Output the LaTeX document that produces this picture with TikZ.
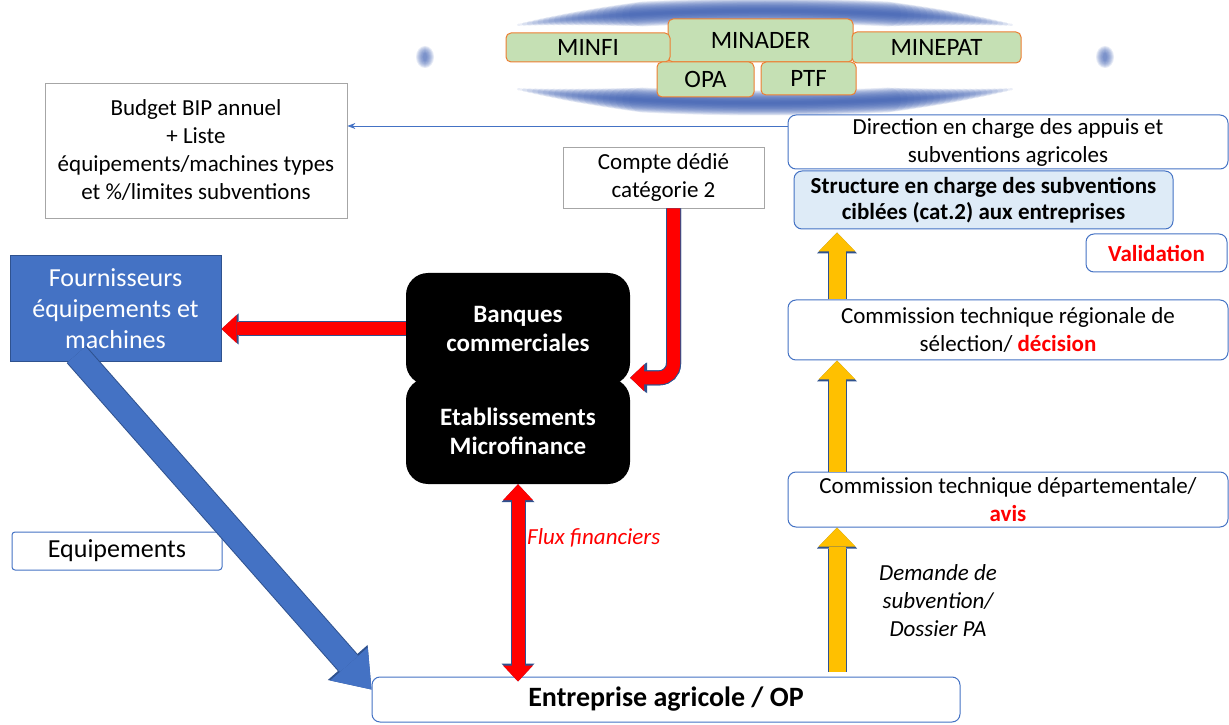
\documentclass[tikz,border=0pt]{standalone}
\usepackage{fontspec}
\setmainfont{Carlito}
\usetikzlibrary{arrows.meta}

\definecolor{accblue}{RGB}{68,114,196}
\definecolor{edgeblue}{RGB}{47,82,143}
\definecolor{paleblue}{RGB}{222,235,247}
\definecolor{orggreen}{RGB}{197,224,180}
\definecolor{orgorange}{RGB}{237,125,49}
\definecolor{flowyellow}{RGB}{255,192,0}
\definecolor{framegray}{RGB}{166,166,166}
\definecolor{glowblue}{RGB}{58,92,176}

\newcommand{\fs}[2]{\fontsize{#1}{#2}\selectfont}

\tikzset{
  every node/.style={align=center, inner sep=0pt},
  txt/.style={font=\fs{23}{28}},
  frame/.style={draw=framegray, fill=white, line width=0.8pt, txt},
  level/.style={draw=accblue, fill=white, rounded corners=8pt, line width=1pt, txt},
  org/.style={draw=orgorange, fill=orggreen, rounded corners=5pt, line width=1pt, font=\fs{25}{30}},
  bank/.style={fill=black, text=white, rounded corners=22pt, minimum width=224pt, font=\bfseries\fs{25}{29}},
  redflow/.style={draw=red, line width=13pt,
    -{Triangle[width=28pt,length=15pt,line width=0pt]},
    preaction={draw=edgeblue, line width=15pt, -{Triangle[width=31pt,length=17pt,line width=0pt]}}},
  redboth/.style={draw=red, line width=13pt,
    {Triangle[width=30pt,length=16pt,line width=0pt]}-{Triangle[width=30pt,length=16pt,line width=0pt]},
    preaction={draw=edgeblue, line width=15pt,
      {Triangle[width=33pt,length=18pt,line width=0pt]}-{Triangle[width=33pt,length=18pt,line width=0pt]}}},
  blueflow/.style={draw=accblue, line width=24pt,
    -{Triangle[width=50pt,length=34pt,line width=0pt]},
    preaction={draw=edgeblue, line width=26pt, -{Triangle[width=53pt,length=36pt,line width=0pt]}}},
  yelflow/.style={draw=flowyellow, line width=17pt,
    -{Triangle[width=37pt,length=19pt,line width=0pt]},
    preaction={draw=edgeblue, line width=19pt, -{Triangle[width=40pt,length=21pt,line width=0pt]}}}
}

\begin{document}
\begin{tikzpicture}[x=1pt,y=1pt]
  \useasboundingbox (0,0) rectangle (1229,724);

  % Blurred ring behind the partners
  \coordinate (ctr) at (765,667);
  \foreach \i in {1,...,20} {
    \pgfmathsetmacro{\h}{47-1.3*\i}
    \pgfmathsetmacro{\w}{1.2*\i+1}
    \draw[glowblue, line width=\w pt, line cap=round, opacity=0.1]
      ([shift={(90+\h:345 and 46)}]ctr) arc[start angle=90+\h, end angle=90-\h, x radius=345, y radius=46];
    \draw[glowblue, line width=\w pt, line cap=round, opacity=0.1]
      ([shift={(270-\h:345 and 46)}]ctr) arc[start angle=270-\h, end angle=270+\h, x radius=345, y radius=46];
  }
  \foreach \s in {-1,1} {
    \foreach \r in {2,3,...,9} {
      \fill[glowblue, opacity=0.13] ([xshift=\s*340]ctr) ellipse ({\r} and {\r+2});
    }
  }

  % Partners
  \node[org, minimum width=185pt, minimum height=43pt] (minader) at (760.5,683.5) {MINADER};
  \node[org, minimum width=164pt, minimum height=29pt] (minfi) at (588,676.5) {MINFI};
  \node[org, minimum width=169pt, minimum height=31pt] (minepat) at (936.5,676.5) {MINEPAT};
  \node[org, minimum width=97pt, minimum height=35pt] (opa) at (705.5,644.5) {OPA};
  \node[org, minimum width=95pt, minimum height=33pt] (ptf) at (808.5,645.5) {PTF};

  % Boxes on the left
  \node[frame, minimum width=302pt, minimum height=135pt] (bud) at (196,573.5)
    {Budget BIP annuel\\+ Liste\\équipements/machines types\\et \%/limites subventions};
  \node[frame, minimum width=201pt, minimum height=61pt] (cpt) at (663.5,546.5)
    {Compte dédié\\catégorie 2};
  \node[draw=edgeblue, fill=accblue, text=white, line width=1pt, minimum width=211pt, minimum height=106pt,
    font=\fs{26}{31}] (four) at (115.5,415) {Fournisseurs\\équipements et\\machines};
  \node[bank, minimum height=112pt] (ban) at (518,395) {Banques\\commerciales};
  \node[bank, minimum height=106pt] (etab) at (518,293) {Etablissements\\Microfinance};
  \node[level, rounded corners=3pt, minimum width=210pt, minimum height=38pt, font=\fs{26}{31}] (equ) at (117,173)
    {Equipements};

  % Chain on the right
  \node[level, minimum width=440pt, minimum height=54pt] (dir) at (1008,582)
    {Direction en charge des appuis et\\subventions agricoles};
  \node[level, fill=paleblue, minimum width=379pt, minimum height=58pt, font=\bfseries\fs{23}{26}] (struc) at (983.5,524)
    {Structure en charge des subventions\\ciblées (cat.2) aux entreprises};
  \node[level, minimum width=141pt, minimum height=38pt, text=red, font=\bfseries\fs{23}{28}] (val) at (1156.5,471)
    {Validation};
  \node[level, minimum width=440pt, minimum height=60pt] (comreg) at (1008,394)
    {Commission technique régionale de\\sélection/ \textcolor{red}{\textbf{décision}}};
  \node[level, minimum width=440pt, minimum height=55pt] (comdep) at (1008,224.5)
    {Commission technique départementale/\\\textcolor{red}{\textbf{avis}}};
  \node[level, minimum width=588pt, minimum height=45pt, font=\bfseries\fs{28}{34}] (ent) at (666,24.5)
    {Entreprise agricole / OP};

  % Labels
  \node[anchor=west, text=red, font=\itshape\fs{23}{28}] (flux) at (527,186) {Flux financiers};
  \node[font=\itshape\fs{23}{28}] (dem) at (938,123) {Demande de\\subvention/\\Dossier PA};

  % Arrows
  \coordinate (dsa) at ([yshift=16]dir.west);
  \draw[accblue, line width=0.8pt, -{Stealth[length=8pt,width=6pt]}] (dsa) -- (dsa -| bud.east);
  \draw[redflow] (ban.west) -- (ban.west -| four.east);
  \draw[redflow, -{Triangle[width=27pt,length=14pt,line width=0pt]},
    preaction={draw=edgeblue, line width=15pt, -{Triangle[width=30pt,length=16pt,line width=0pt]}},
    rounded corners=14pt] ([xshift=10]cpt.south) |- (etab.north east);
  \draw[redboth] (etab.south) -- ([yshift=-5]ent.north -| etab.south);
  \coordinate (eqs) at ([shift={(-39,8)}]four.south);
  \draw[blueflow] (eqs) -- ([yshift=10]ent.west);

  \coordinate (ycol) at (837,0);
  \draw[yelflow, shorten <=5pt] (ent.north -| ycol) -- (comdep.south -| ycol);
  \draw[yelflow] (comdep.north -| ycol) -- (comreg.south -| ycol);
  \draw[yelflow, shorten >=3pt] (comreg.north -| ycol) -- (struc.south -| ycol);
\end{tikzpicture}
\end{document}
